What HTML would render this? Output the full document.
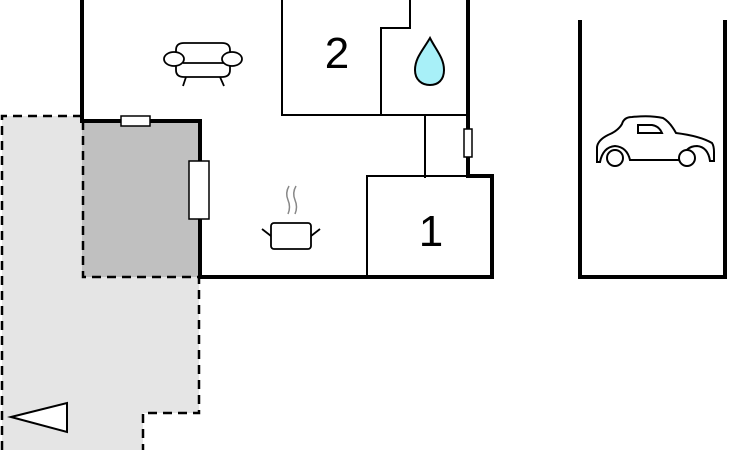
<!DOCTYPE html>
<html><head><style>body{margin:0;background:#fff}svg{display:block}</style></head><body>
<svg width="730" height="450" viewBox="0 0 730 450" xmlns="http://www.w3.org/2000/svg">
<rect width="730" height="450" fill="#fff"/>
<!-- light gray terrace -->
<path d="M2,116 H82 V277 H199 V413 H143 V450 H2 Z" fill="#e5e5e5"/>
<rect x="82" y="121" width="118" height="156" fill="#c0c0c0"/>
<g fill="none" stroke="#000" stroke-width="2.5" stroke-dasharray="9,6">
<path d="M2,450 V116 H82"/>
<path d="M83,121 V277 H199 V413 H143 V450"/>
</g>
<!-- thick walls -->
<g fill="none" stroke="#000" stroke-width="4">
<path d="M82,0 V121 H200 V277 H492 V176 H468 V0"/>
<path d="M580,20 V277 H725 V20"/>
</g>
<!-- thin walls -->
<g fill="none" stroke="#000" stroke-width="2">
<path d="M282,0 V115 H468"/>
<path d="M410,0 V28 H381 V115"/>
<path d="M425,115 V178"/>
<path d="M367,277 V176 H468"/>
</g>
<!-- windows -->
<g fill="#fff" stroke="#000" stroke-width="1.5">
<rect x="121" y="116" width="29" height="10"/>
<rect x="189" y="161" width="20" height="58"/>
<rect x="464" y="129" width="8" height="28"/>
</g>
<text x="337" y="68" font-family="Liberation Sans, sans-serif" font-size="44" text-anchor="middle">2</text>
<text x="431" y="246" font-family="Liberation Sans, sans-serif" font-size="44" text-anchor="middle">1</text>
<!-- drop -->
<path d="M430,38 C423,50 415,58 415,70 C415,80 422,85 430,85 C438,85 444,80 444,70 C444,58 436,50 430,38 Z" fill="#a8f0f8" stroke="#000" stroke-width="2"/>
<!-- sofa -->
<g fill="#fff" stroke="#000" stroke-width="1.8">
<path d="M176,60 V50 Q176,43 184,43 H222 Q230,43 230,50 V60"/>
<path d="M176,64 V70 Q176,77 184,77 H222 Q230,77 230,70 V64"/>
<line x1="183" y1="63" x2="224" y2="63"/>
<ellipse cx="174" cy="59" rx="10" ry="7"/>
<ellipse cx="232" cy="59" rx="10" ry="7"/>
<line x1="186" y1="77" x2="183" y2="86"/>
<line x1="220" y1="77" x2="224" y2="86"/>
</g>
<!-- pot -->
<g fill="none" stroke="#000" stroke-width="1.8">
<rect x="271" y="223" width="40" height="26" rx="3" fill="#fff"/>
<line x1="271" y1="236" x2="262" y2="229"/>
<line x1="311" y1="236" x2="320" y2="229"/>
</g>
<g fill="none" stroke="#888" stroke-width="1.5">
<path d="M289,186 Q285,193 288,200 Q291,207 288,214"/>
<path d="M296,186 Q292,193 295,200 Q298,207 295,214"/>
</g>
<!-- car -->
<g fill="#fff" stroke="#000" stroke-width="2">
<path d="M600,162 H597 V147 Q598,140 608,135 Q618,131 622,124 Q624,117 632,117 Q650,115 663,118 Q670,122 676,133 Q700,136 712,143 Q714,146 714,152 V161 H710 Q708,147 697,146 Q685,146 682,160 H630 Q627,147 615,146 Q603,147 600,162 Z"/>
<circle cx="615" cy="158" r="8"/>
<circle cx="687" cy="158" r="8"/>
<path d="M638,125 H652 Q659,126 662,133 H638 Z"/>
</g>
<!-- triangle -->
<path d="M11,417 L67,403 V432 Z" fill="#fff" stroke="#000" stroke-width="2"/>
</svg>
</body></html>
